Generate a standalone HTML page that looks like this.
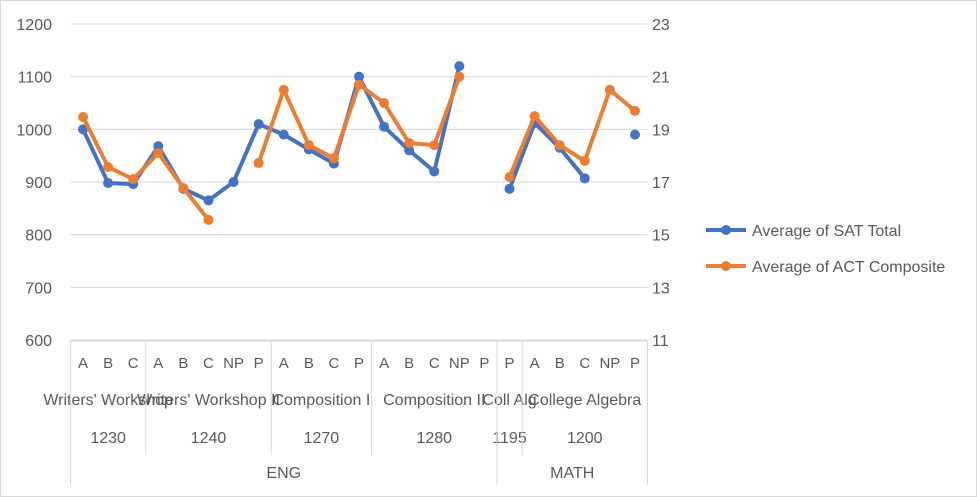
<!DOCTYPE html>
<html><head><meta charset="utf-8"><style>
body{margin:0;background:#fff;}
svg{display:block;font-family:"Liberation Sans",sans-serif;}
</style></head><body>
<svg id="chart" width="977" height="497">
<rect x="0.5" y="0.5" width="976" height="496" fill="#fff" stroke="#d9d9d9"/>
<g id="grid"></g><g id="axes"></g><g id="series"></g><g id="legend"></g>
</svg>
<script>
const levels=["A","B","C","A","B","C","NP","P","A","B","C","P","A","B","C","NP","P","P","A","B","C","NP","P"];
const courseGroups=[["Writers' Workshop","1230",3],["Writers' Workshop II","1240",5],["Composition I","1270",4],["Composition II","1280",5],["Coll Alg","1195",1],["College Algebra","1200",5]];
const deptGroups=[["ENG",17],["MATH",6]];
const satValues=[1000,898,896,968,887,865,900,1010,990,962,935,1100,1005,960,920,1120,null,887,1012,965,907,null,990];
const actValues=[19.47,17.57,17.11,18.1,16.77,15.56,null,17.72,20.5,18.4,17.9,20.7,20.0,18.48,18.4,21.0,null,17.19,19.5,18.4,17.8,20.5,19.7];
const leftTicks=[600,700,800,900,1000,1100,1200];
const rightTicks=[11,13,15,17,19,21,23];
const NS="http://www.w3.org/2000/svg";
const X0=70.5,X1=647.5,YT=24,YB=340;
const cw=(X1-X0)/levels.length;
const xs=i=>X0+cw*(i+0.5);
const yL=v=>YB-(v-600)/600*(YB-YT);
const yR=v=>YB-(v-11)/12*(YB-YT);
function mk(tag,attrs,parent,text){const e=document.createElementNS(NS,tag);for(const k in attrs)e.setAttribute(k,attrs[k]);if(text!=null)e.textContent=text;parent.appendChild(e);return e;}
const grid=document.getElementById('grid'),axes=document.getElementById('axes'),ser=document.getElementById('series'),leg=document.getElementById('legend');
leftTicks.forEach((t,i)=>{
 const l=mk('line',{x1:X0,x2:X1,y1:yL(t),y2:yL(t),stroke:'#d9d9d9'},grid);
 
 
 const tx=mk('text',{x:52,y:yL(t)+6,'text-anchor':'end','font-size':16,fill:'#595959'},axes,t);
 
 
});
rightTicks.forEach(t=>{
 const tx=mk('text',{x:652,y:yR(t)+6,'font-size':16,fill:'#595959'},axes,t);
 
 
});
// category axis
mk('line',{x1:X0,x2:X1,y1:YB+1,y2:YB+1,stroke:'#d9d9d9'},axes);
levels.forEach((l,i)=>{
 const t=mk('text',{x:xs(i),y:368,'text-anchor':'middle','font-size':15,fill:'#595959'},axes,l);
 
 
});
let idx=0;
courseGroups.forEach(g=>{
 const a=X0+cw*idx,b=X0+cw*(idx+g[2]);
 const t1=mk('text',{x:(a+b)/2,y:405,'text-anchor':'middle','font-size':16,fill:'#595959'},axes,g[0]);
 
 
 const t2=mk('text',{x:(a+b)/2,y:443,'text-anchor':'middle','font-size':16,fill:'#595959'},axes,g[1]);
 
 
 if(idx>0) mk('line',{x1:a,x2:a,y1:YB+1,y2:455,stroke:'#d9d9d9'},axes);
 idx+=g[2];
});
idx=0;
deptGroups.forEach(g=>{
 const a=X0+cw*idx,b=X0+cw*(idx+g[1]);
 const t=mk('text',{x:(a+b)/2,y:478,'text-anchor':'middle','font-size':16,fill:'#595959'},axes,g[0]);
 
 
 mk('line',{x1:a,x2:a,y1:YB+1,y2:485,stroke:'#d9d9d9'},axes);
 idx+=g[1];
});
mk('line',{x1:X1,x2:X1,y1:YB+1,y2:485,stroke:'#d9d9d9'},axes);
function drawSeries(vals,yf,color,name){
 let d='',pen=false;
 vals.forEach((v,i)=>{if(v==null){pen=false;return;}d+=(pen?'L':'M')+xs(i)+' '+yf(v)+' ';pen=true;});
 const p=mk('path',{d:d,fill:'none',stroke:color,'stroke-width':4,'stroke-linejoin':'round'},ser);
 
 
 vals.forEach((v,i)=>{if(v==null)return;
  const c=mk('circle',{cx:xs(i),cy:yf(v),r:5,fill:color},ser);
  
  
 });
}
drawSeries(satValues,yL,'#4472c4','sat');
drawSeries(actValues,yR,'#ed7d31','act');
[['Average of SAT Total','#4472c4',230],['Average of ACT Composite','#ed7d31',266]].forEach(e=>{
 const g=mk('g',{},leg);
 
 
 mk('line',{x1:706,x2:746,y1:e[2],y2:e[2],stroke:e[1],'stroke-width':4},g);
 mk('circle',{cx:726,cy:e[2],r:5,fill:e[1]},g);
 mk('text',{x:752,y:e[2]+6,'font-size':16,fill:'#595959'},g,e[0]);
});
</script>
</body></html>
